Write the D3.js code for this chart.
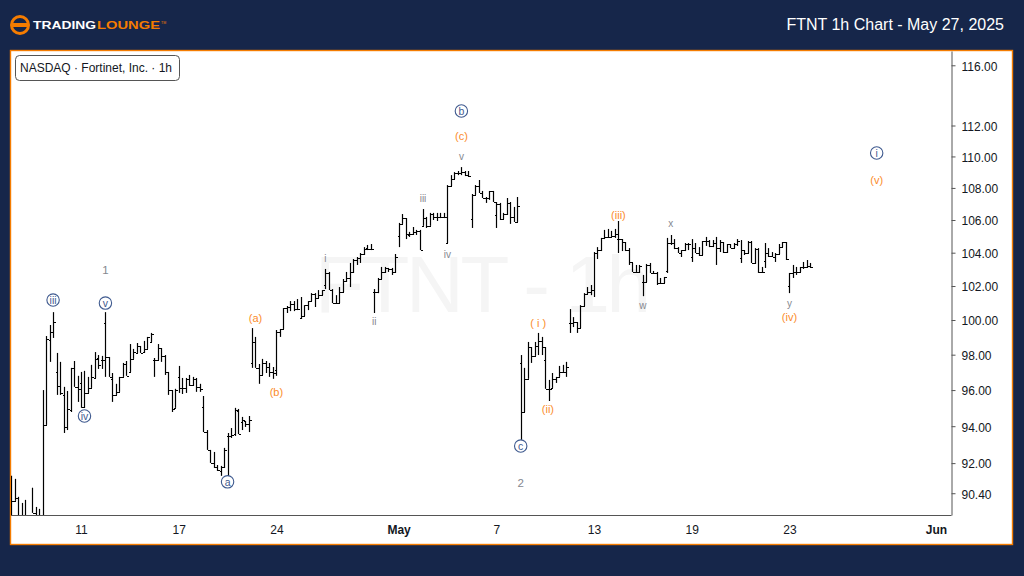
<!DOCTYPE html>
<html>
<head>
<meta charset="utf-8">
<script src="https://cdn.jsdelivr.net/npm/d3@7"></script>
<style>
    html, body { margin: 0; padding: 0; background: #16264a; }
    svg { display: block; }
    text { font-family: "Liberation Sans", Arial, sans-serif; }
</style>
</head>
<body>
<div id="chart"></div>
<script>
// FTNT hourly bars
var opens = [
    90.58,90.0,90.15,89.11,89.11,89.11,89.22,89.37,89.06,89.01,
    94.07,98.84,99.3,97.02,96.23,95.73,93.96,94.89,97.25,96.18,
    96.4,95.06,95.84,96.12,96.68,97.81,97.7,99.83,97.87,96.63,
    95.73,95.9,96.74,97.47,97.02,97.76,98.1,98.5,98.15,98.33,
    98.73,97.7,97.7,98.38,97.93,97.02,96.0,95.01,96.74,96.12,
    96.12,96.63,96.29,96.63,96.18,95.06,93.68,92.71,92.01,91.8,
    91.58,91.8,93.47,93.47,93.57,94.84,94.23,94.29,94.12,97.53,
    98.73,97.25,96.85,97.53,97.3,97.02,97.13,99.3,99.48,100.7,
    100.76,100.93,100.64,100.12,100.23,100.87,101.11,101.52,101.29,101.46,
    102.06,102.78,101.76,100.99,100.99,101.64,102.3,102.48,102.84,103.56,
    103.68,103.92,104.28,104.22,101.64,101.64,102.42,102.84,103.08,103.02,
    102.84,105.02,105.76,106.12,105.08,105.14,105.27,105.33,105.64,106.12,
    105.64,106.37,106.19,106.19,106.19,104.59,108.12,108.56,108.94,108.94,
    109.0,108.81,106.06,107.56,108.12,107.68,107.37,107.37,107.81,106.31,
    107.0,106.06,106.37,107.06,106.19,105.88,97.53,94.78,96.63,98.44,
    97.93,98.5,98.79,97.7,96.07,96.12,96.63,96.74,97.02,97.02,
    99.83,99.83,99.88,99.53,100.82,101.52,101.64,101.76,103.98,104.16,
    104.9,104.96,104.96,105.02,104.83,104.83,104.65,104.16,103.44,102.84,
    102.84,102.24,102.24,103.26,102.78,102.78,102.18,102.18,102.9,104.59,
    104.59,104.28,103.98,104.16,104.53,103.74,104.28,103.98,103.86,104.71,
    104.71,104.41,104.59,104.28,104.65,104.04,104.53,104.28,104.53,103.68,
    104.16,103.98,104.65,103.38,104.22,102.84,103.5,103.98,103.8,103.74,
    103.92,104.34,104.65,102.0,102.78,102.84,102.84,103.14,103.14,103.2
];
var highs = [
    91.32,91.16,90.21,89.89,90.05,89.17,90.69,89.68,89.58,96.0,
    99.07,99.71,100.46,98.1,97.59,96.18,95.95,97.25,97.64,96.8,
    97.02,97.08,96.74,97.42,98.15,97.98,97.93,100.46,97.87,96.96,
    96.35,96.74,97.53,97.64,98.61,98.33,98.67,98.5,98.79,99.02,
    99.25,97.81,98.61,98.38,97.98,97.02,96.0,96.07,97.36,96.68,
    96.68,96.85,96.74,96.68,96.35,95.67,93.79,92.71,92.6,91.9,
    91.85,92.82,93.63,93.9,95.01,94.95,94.51,94.29,94.56,99.53,
    99.02,97.47,97.76,97.64,97.53,97.3,99.42,99.48,100.7,100.82,
    101.11,101.11,101.23,101.35,100.87,101.11,101.58,101.58,101.76,101.76,
    103.02,102.84,101.82,101.46,101.94,102.42,102.84,103.38,103.62,103.74,
    103.98,104.34,104.47,104.53,101.82,102.48,103.14,103.14,103.08,103.08,
    103.92,105.82,106.37,106.12,105.27,105.57,105.39,105.39,106.68,106.19,
    106.44,106.44,106.44,106.44,106.44,108.18,108.81,109.0,109.07,109.32,
    109.07,109.07,107.62,108.18,108.5,107.81,107.43,107.81,107.81,107.12,
    107.06,106.44,107.37,107.12,106.81,107.43,97.98,97.25,98.73,98.44,
    98.73,99.25,99.02,98.44,96.57,96.96,96.74,97.36,97.42,97.59,
    100.64,100.17,99.88,100.87,101.58,101.94,102.06,104.04,104.34,104.9,
    105.39,105.45,105.33,105.45,105.94,104.83,104.65,104.28,103.38,103.26,
    103.26,102.66,103.32,103.38,102.9,102.84,102.48,102.54,104.9,105.08,
    104.83,104.34,104.16,104.59,104.59,104.83,104.59,104.34,104.71,104.96,
    104.77,104.77,104.96,104.77,104.65,104.53,104.53,104.59,104.83,104.77,
    104.16,104.71,104.71,104.28,104.28,103.14,104.59,104.28,104.04,103.98,
    104.53,104.65,104.65,102.78,103.26,103.14,103.14,103.44,103.56,103.38
];
var lows = [
    89.01,90.0,89.01,89.01,89.01,88.9,89.37,89.01,88.96,88.9,
    94.07,97.59,98.96,95.73,95.73,93.63,93.79,94.78,96.18,95.34,
    95.01,95.01,95.84,96.12,96.68,97.19,97.19,96.74,96.74,95.34,
    95.73,95.9,96.74,96.8,97.02,97.76,98.1,98.1,98.1,98.33,
    98.73,96.74,97.7,97.59,96.85,95.73,94.78,95.01,95.84,95.78,
    95.84,96.23,96.23,95.9,95.9,93.68,92.71,92.01,91.74,91.58,
    91.32,91.74,91.27,93.36,93.47,93.57,93.79,93.96,93.68,97.25,
    97.25,96.35,96.85,96.96,96.74,96.63,96.8,99.02,99.48,100.41,
    100.52,100.52,100.58,100.06,100.23,100.58,101.11,100.76,101.29,101.46,
    101.82,101.76,100.99,100.99,100.99,101.64,102.24,101.94,102.78,103.26,
    103.38,103.86,104.16,104.16,100.41,101.58,102.42,102.78,102.84,102.66,
    102.78,104.34,105.76,104.83,104.96,105.08,105.08,104.16,105.64,105.51,
    105.64,106.0,105.94,106.12,106.12,104.59,108.12,108.56,108.81,108.81,
    108.75,108.69,105.51,107.56,107.68,107.37,107.06,107.25,107.12,105.51,
    106.0,106.06,106.31,105.76,105.88,105.88,93.25,94.78,96.63,97.53,
    97.93,97.98,97.98,96.07,95.39,96.12,96.4,96.74,97.02,96.74,
    99.25,99.59,99.25,99.53,100.82,101.52,101.46,101.35,103.62,104.1,
    104.83,104.9,104.96,104.9,103.98,104.1,104.1,103.26,102.84,102.84,
    102.78,101.4,102.24,102.78,102.72,102.06,102.18,102.18,102.78,104.47,
    104.22,103.98,103.74,104.1,104.16,103.44,103.98,103.8,103.86,104.41,
    104.34,104.34,103.26,104.04,103.98,103.98,104.28,104.28,104.41,103.38,
    103.86,103.98,103.38,103.32,102.78,102.78,103.08,103.74,103.74,103.44,
    103.92,104.34,103.56,101.58,102.48,102.66,102.84,103.02,103.08,103.08
];
var closes = [
    90.0,90.15,89.27,89.11,89.11,89.06,89.37,89.06,89.01,94.07,
    98.9,99.3,99.88,96.23,95.84,93.96,94.95,97.25,96.18,96.07,
    95.06,95.84,96.12,96.74,97.76,97.42,97.7,97.87,96.74,95.73,
    95.9,96.74,97.47,96.8,97.76,98.15,98.5,98.1,98.33,99.02,
    99.19,97.7,98.38,97.93,97.02,96.0,94.95,96.0,96.12,96.12,
    96.63,96.29,96.63,96.18,96.07,93.68,92.71,92.01,91.8,91.64,
    91.8,92.71,93.47,93.52,94.89,93.57,94.34,94.12,94.34,98.73,
    97.25,96.85,97.53,97.3,97.02,96.96,99.3,99.48,100.7,100.76,
    100.93,100.64,100.64,100.23,100.87,101.11,101.52,101.29,101.46,101.76,
    102.78,101.76,100.99,100.99,101.64,102.3,102.48,102.84,103.56,103.68,
    103.92,104.22,104.22,104.22,101.64,102.42,102.84,103.08,103.02,102.84,
    103.74,105.76,106.12,105.14,105.14,105.27,105.33,104.16,106.12,105.64,
    106.37,106.19,106.19,106.19,106.19,108.12,108.56,108.94,108.94,109.0,
    108.81,108.75,107.56,108.12,107.68,107.37,107.37,107.81,107.12,107.0,
    106.06,106.37,107.06,106.19,105.88,106.87,94.78,96.63,98.44,97.93,
    98.5,98.79,98.44,96.07,96.07,96.63,96.74,97.02,97.02,97.3,
    99.83,99.88,99.53,100.82,101.52,101.64,101.76,103.98,104.16,104.9,
    104.96,104.96,105.02,105.14,104.83,104.65,104.16,103.44,102.84,102.84,
    103.2,102.24,103.26,102.78,102.78,102.18,102.18,102.54,104.59,104.59,
    104.28,103.98,104.16,104.53,104.53,104.28,103.98,103.86,104.71,104.71,
    104.41,104.59,104.28,104.65,104.04,104.53,104.28,104.53,104.71,104.16,
    103.98,104.65,103.38,104.22,102.84,102.84,103.98,103.8,103.74,103.92,
    104.34,104.65,103.62,102.78,102.84,102.84,103.14,103.14,103.2,103.14
];

// Axis labels
var priceTicks = [116, 112, 110, 108, 106, 104, 102, 100, 98, 96, 94, 92, 90.4];
var timeLabels = ['11', '17', '24', 'May', '7', '13', '19', '23', 'Jun'];
var timeBars = [20, 48, 76, 111, 139, 167, 195, 223, 265];
var boldLabels = ['May', 'Jun'];

// Elliott wave labels: [text, bar, price]
var circledWaves = [['iii', 12, 101.17], ['v', 27, 100.99], ['iv', 21, 94.56], ['a', 62, 91.0],
                    ['b', 129, 112.95], ['c', 146, 92.92], ['i', 248, 110.22]];
var orangeWaves = [['(a)', 70, 100.12], ['(b)', 76, 95.9], ['(c)', 129, 111.32], ['( i )', 151, 99.83],
                   ['(ii)', 153.8, 94.95], ['(iii)', 174, 106.31], ['(iv)', 223, 100.17], ['(v)', 248, 108.5]];
var greyWaves = [['i', 90, 103.62], ['ii', 104, 99.94],
                 ['iii', 118, 107.31], ['iv', 125, 103.92], ['v', 129, 110.0],
                 ['w', 181, 100.82], ['x', 189, 105.76], ['y', 223, 100.99]];
var greyDigits = [['1', 27, 102.96], ['2', 146, 90.95]];

var width = 1024, height = 576;
var plotL = 11, plotR = 951, plotT = 51, plotB = 515;
var navy = '#16264a', orange = '#f57c00', waveBlue = '#3f5a8f';

var svg = d3.select('#chart').append('svg').attr('width', width).attr('height', height);

svg.append('rect').attr('width', width).attr('height', height).attr('fill', navy);
svg.append('rect')
    .attr('x', 10.5).attr('y', 50.5).attr('width', 1002).attr('height', 494)
    .attr('fill', '#fff').attr('stroke', orange).attr('stroke-width', 1.4);

//--------------------------------------------------------------
// Header

var logo = svg.append('g');
logo.append('circle').attr('cx', 20).attr('cy', 25).attr('r', 8.5)
    .attr('fill', navy).attr('stroke', orange).attr('stroke-width', 3);
logo.append('rect').attr('x', 11).attr('y', 23).attr('width', 18).attr('height', 4).attr('fill', orange);
logo.append('text').attr('x', 33).attr('y', 29).attr('font-size', 11).attr('font-weight', 700)
    .attr('fill', '#fff').attr('textLength', 63).attr('lengthAdjust', 'spacingAndGlyphs').text('TRADING');
logo.append('text').attr('x', 97).attr('y', 29).attr('font-size', 11).attr('font-weight', 700)
    .attr('fill', orange).attr('textLength', 63).attr('lengthAdjust', 'spacingAndGlyphs').text('LOUNGE');
logo.append('text').attr('x', 161).attr('y', 24).attr('font-size', 3.5)
    .attr('fill', orange).text('TM');

svg.append('text').attr('x', 1004).attr('y', 30)
    .attr('text-anchor', 'end').attr('font-size', 16).attr('fill', '#fff')
    .text('FTNT 1h Chart - May 27, 2025');

//--------------------------------------------------------------
// Scales

var x = d3.scaleLinear().domain([0, 265]).range([11.2, 936]);
var y = d3.scaleLog().domain([116.97, 89.26]).range([plotT, plotB]);

// Faint watermark sits behind the bars
svg.append('text').attr('x', 483).attr('y', 312)
    .attr('text-anchor', 'middle').attr('font-size', 80).attr('fill', '#f5f5f5')
    .attr('textLength', 336)
    .text('FTNT - 1h');

svg.append('clipPath').attr('id', 'plotclip').append('rect')
    .attr('x', plotL).attr('y', plotT).attr('width', plotR - plotL).attr('height', plotB - plotT);

//--------------------------------------------------------------
// OHLC bars

var bars = svg.append('g').attr('clip-path', 'url(#plotclip)')
  .selectAll('g')
    .data(d3.range(opens.length))
  .enter()
    .append('g')
      .attr('stroke', '#000');

function px(i){ return Math.round(x(i)) + 0.5; }

bars.append('line')
    .attr('stroke-width', 1.2)
    .attr('x1', px).attr('x2', px)
    .attr('y1', function(i){ return y(highs[i]); })
    .attr('y2', function(i){ return y(lows[i]); });
bars.append('line')
    .attr('shape-rendering', 'crispEdges')
    .attr('x1', function(i){ return px(i) - 2; }).attr('x2', px)
    .attr('y1', function(i){ return Math.round(y(opens[i])) + 0.5; })
    .attr('y2', function(i){ return Math.round(y(opens[i])) + 0.5; });
bars.append('line')
    .attr('shape-rendering', 'crispEdges')
    .attr('x1', px).attr('x2', function(i){ return px(i) + 2; })
    .attr('y1', function(i){ return Math.round(y(closes[i])) + 0.5; })
    .attr('y2', function(i){ return Math.round(y(closes[i])) + 0.5; });

//--------------------------------------------------------------
// Axes

var yAxis = svg.append('g')
    .attr('transform', 'translate(' + (plotR + 0.5) + ',0)')
    .call(d3.axisRight(y).tickValues(priceTicks).tickFormat(d3.format('.2f')).tickSize(4).tickSizeOuter(0).tickPadding(6));
yAxis.selectAll('text').attr('font-size', 12).attr('dy', '0.4em')
    .attr('font-family', '"Liberation Sans", Arial, sans-serif').attr('fill', '#131722');
yAxis.selectAll('line, path').attr('stroke', '#555');

var xAxis = svg.append('g')
    .attr('transform', 'translate(0,' + (plotB + 0.5) + ')')
    .call(d3.axisBottom(x).tickValues(timeBars)
        .tickFormat(function(d, i){ return timeLabels[i]; })
        .tickSize(0).tickPadding(10));
xAxis.select('path').attr('d', 'M' + plotL + ',0H' + (plotR + 0.5)).attr('stroke', '#555');
xAxis.selectAll('text')
    .attr('font-size', 12)
    .attr('font-family', '"Liberation Sans", Arial, sans-serif')
    .attr('fill', '#131722')
    .attr('font-weight', function(d, i){ return boldLabels.indexOf(timeLabels[i]) >= 0 ? 700 : 400; });

//--------------------------------------------------------------
// Wave labels

function drawWaves(list, color, size)
{
    svg.append('g').selectAll('text')
        .data(list)
      .enter()
        .append('text')
          .attr('x', function(d){ return x(d[1]); })
          .attr('y', function(d){ return y(d[2]); })
          .attr('dy', '0.35em')
          .attr('text-anchor', 'middle')
          .attr('font-size', size)
          .attr('fill', color)
          .text(function(d){ return d[0]; });
}

svg.append('g').selectAll('circle')
    .data(circledWaves)
  .enter()
    .append('circle')
      .attr('cx', function(d){ return x(d[1]); })
      .attr('cy', function(d){ return y(d[2]); })
      .attr('r', 6.2)
      .attr('fill', '#fff')
      .attr('stroke', waveBlue)
      .attr('stroke-width', 1.1);

drawWaves(circledWaves, waveBlue, 10.5);
drawWaves(orangeWaves, '#fb8c2c', 11);
drawWaves(greyWaves, '#85888f', 10);
drawWaves(greyDigits, '#85888f', 11.5);

//--------------------------------------------------------------
// Legend box

var legend = svg.append('g');
legend.append('rect').attr('x', 15.5).attr('y', 55.5).attr('width', 164).attr('height', 25).attr('rx', 4)
    .attr('fill', '#fff').attr('stroke', '#555');
legend.append('text').attr('x', 20).attr('y', 72).attr('font-size', 12).attr('fill', '#131722')
    .text('NASDAQ \u00b7 Fortinet, Inc. \u00b7 1h');
</script>
</body>
</html>
